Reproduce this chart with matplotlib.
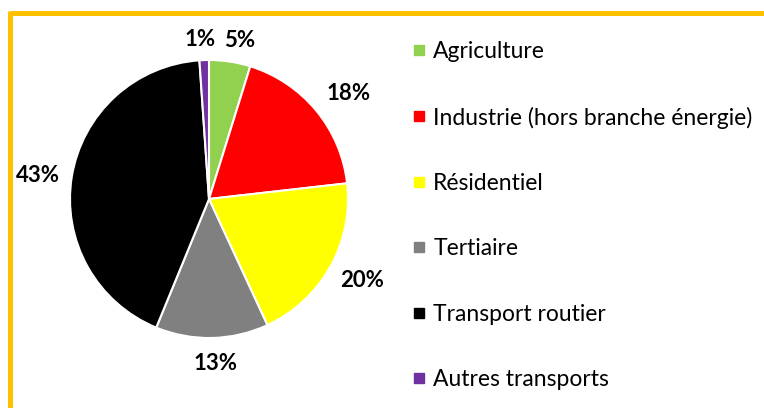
import matplotlib
matplotlib.use("Agg")
import matplotlib.pyplot as plt
from matplotlib.lines import Line2D
import numpy as np

categories = ["Agriculture", "Industrie (hors branche énergie)", "Résidentiel",
              "Tertiaire", "Transport routier", "Autres transports"]
values = [4.8, 18.4, 19.9, 13.1, 42.7, 1.1]
labels_pct = ["5%", "18%", "20%", "13%", "43%", "1%"]
colors = ["#92D050", "#FF0000", "#FFFF00", "#808080", "#000000", "#7030A0"]

plt.rcParams['font.family'] = ['Lato', 'DejaVu Sans']

W, H = 764, 408
fig = plt.figure(figsize=(W / 100, H / 100), dpi=100)

# orange frame (top and left)
fig.add_artist(Line2D([9.5 / W, 1.0], [1 - 12.5 / H, 1 - 12.5 / H], color="#FFC000", lw=3.6,
                      transform=fig.transFigure, solid_capstyle="butt"))
fig.add_artist(Line2D([9.5 / W, 9.5 / W], [0.0, 1 - 11 / H], color="#FFC000", lw=3.6,
                      transform=fig.transFigure, solid_capstyle="butt"))

cx, cy, r = 209, 199, 139
ax = fig.add_axes([(cx - r) / W, 1 - (cy + r) / H, 2 * r / W, 2 * r / H])
wedges, _ = ax.pie(values, colors=colors, startangle=90, counterclock=False,
                   radius=1.0, wedgeprops=dict(edgecolor="white", linewidth=1.5))
ax.set_xlim(-1, 1)
ax.set_ylim(-1, 1)
ax.set_aspect("equal")
ax.axis("off")

# label placement (style): radial distance and angular nudge (deg) per label
label_dist = [1.165, 1.263, 1.245, 1.181, 1.242, 1.146]
label_nudge = [-2.4, -2.5, 1.4, 1.0, 1.2, 1.2]
for w, lab, d, nd in zip(wedges, labels_pct, label_dist, label_nudge):
    ang = np.deg2rad((w.theta1 + w.theta2) / 2 + nd)
    ax.text(d * np.cos(ang), d * np.sin(ang), lab, ha="center", va="center",
            fontsize=16, fontweight="bold", color="#000000", clip_on=False)

handles = [Line2D([], [], marker="s", linestyle="none", markersize=7.5,
                  markerfacecolor=c, markeredgecolor=c) for c in colors]
fig.legend(handles, categories, loc="upper left", bbox_to_anchor=(397 / W, 1 - 29.5 / H),
           frameon=False, fontsize=16.5, labelspacing=1.94, handletextpad=0.18,
           handlelength=0.9, borderpad=0)

fig.savefig("out.png", dpi=100, facecolor="white")
